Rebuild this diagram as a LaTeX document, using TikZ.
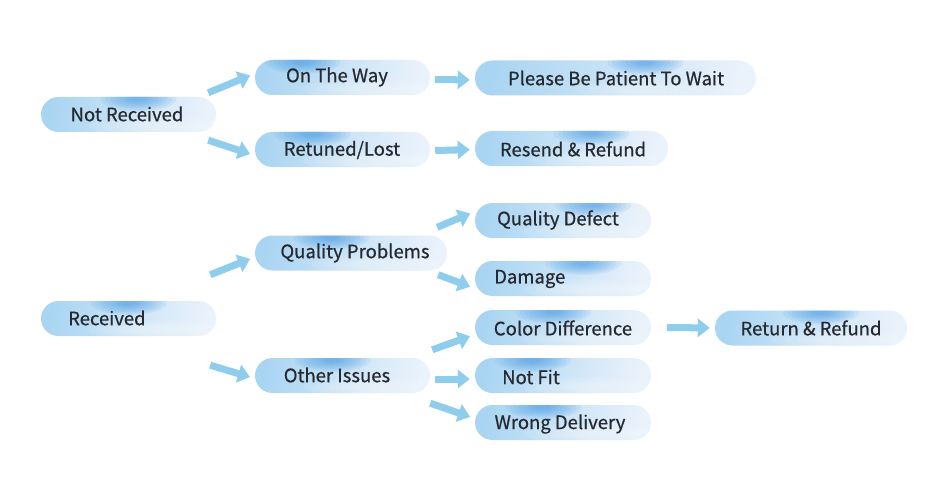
\documentclass[tikz,border=0pt]{standalone}
\usepackage{fontspec}
\setmainfont{Noto Sans CJK SC}[FakeBold=0.6]
\usetikzlibrary{arrows.meta}
\definecolor{pillA}{RGB}{170,213,242}
\definecolor{pillB}{RGB}{234,242,251}
\definecolor{spot}{RGB}{60,150,228}
\definecolor{arr}{RGB}{142,206,236}
\definecolor{txtc}{RGB}{38,42,48}
\tikzset{
  pill/.style={minimum height=35pt, minimum width=175pt, rounded corners=17.5pt,
    inner sep=0pt, left color=pillA, right color=pillB, shading angle=80,
    path picture={
      \foreach \s in {1.0,0.88,0.76,0.64,0.52,0.4,0.3,0.2}{
        \fill[spot, opacity=0.1] ([xshift=#1, yshift=-2pt]path picture bounding box.north) ellipse ({38pt*\s} and {12pt*\s});
      }
      \foreach \s in {1.0,0.8,0.6,0.4}{
        \fill[white, opacity=0.1] ([xshift=25pt, yshift=6pt]path picture bounding box.south) ellipse ({65pt*\s} and {10pt*\s});
      }
    }},
  pill/.default=10pt,
  lbl/.style={text=txtc, font=\fontsize{18.5}{22}\selectfont, inner sep=0pt},
  barr/.style={draw=arr, line width=7pt, -{Triangle[width=18pt,length=12pt]}, shorten >=5pt},
}
\begin{document}
\begin{tikzpicture}[x=1pt,y=-1pt]
\useasboundingbox (0,0) rectangle (950,500);
\fill[white] (0,0) rectangle (950,500);
% pills
\node[pill=10pt] (nr) at (128.5,114.5) {};
\node[pill=-40pt] (otw) at (342.5,77.5) {};
\node[pill=30pt, minimum width=281pt] (pbp) at (615.5,78) {};
\node[pill=-30pt] (rl) at (342.5,149.5) {};
\node[pill=20pt, minimum width=193pt] (rr1) at (571.5,148.5) {};
\node[pill=30pt, minimum width=176pt] (qd) at (563,220.5) {};
\node[pill=-20pt, minimum width=192pt] (qp) at (351,253) {};
\node[pill=20pt, minimum width=176pt] (dm) at (563,278.5) {};
\node[pill=0pt] (rc) at (128.5,318.5) {};
\node[pill=-10pt, minimum width=176pt] (cd) at (563,327.5) {};
\node[pill=10pt, minimum width=192pt] (rr2) at (811,328) {};
\node[pill=-10pt] (oi) at (342.5,375.5) {};
\node[pill=-30pt, minimum width=176pt] (nf) at (563,375.5) {};
\node[pill=-20pt, minimum width=176pt] (wd) at (563,422.5) {};
% labels
\node[lbl] (tnr) at (127,114) {Not Received};
\node[lbl] (totw) at (337,77) {On The Way};
\node[lbl] (tpbp) at (616,78) {Please Be Patient To Wait};
\node[lbl] (trl) at (342,150) {Retuned/Lost};
\node[lbl] (trr1) at (573,149) {Resend \& Refund};
\node[lbl] (tqd) at (558,220) {Quality Defect};
\node[lbl] (tqp) at (355,253) {Quality Problems};
\node[lbl, anchor=west] (tdm) at (494,279) {Damage};
\node[lbl, anchor=west] (trc) at (68,318) {Received};
\node[lbl] (tcd) at (563,328) {Color Difference};
\node[lbl] (trr2) at (811,328) {Return \& Refund};
\node[lbl] (toi) at (337,375) {Other Issues};
\node[lbl, anchor=west] (tnf) at (502,377) {Not Fit};
\node[lbl] (twd) at (560,424) {Wrong Delivery};
% arrows
\draw[barr] ([xshift=-8pt,yshift=4pt]nr.north east) -- ([yshift=4pt]otw.west);
\draw[barr] ([xshift=-8pt,yshift=-8pt]nr.south east) -- ([yshift=-6pt]rl.west);
\draw[barr] ([xshift=5pt,yshift=-2pt]otw.east) -- ([yshift=-2pt]pbp.west);
\draw[barr] ([xshift=5pt,yshift=-1pt]rl.east) -- ([yshift=-1pt]rr1.west);
\draw[barr] ([xshift=-6pt,yshift=26pt]rc.north east) -- ([yshift=-4pt]qp.west);
\draw[barr] ([xshift=-6pt,yshift=-29pt]rc.south east) -- ([yshift=-3pt]oi.west);
\draw[barr] ([xshift=-10pt,yshift=8pt]qp.north east) -- ([yshift=9pt]qd.west);
\draw[barr] ([xshift=-9pt,yshift=-4pt]qp.south east) -- ([yshift=-10pt]dm.west);
\draw[barr] ([xshift=2pt,yshift=8pt]oi.north east) -- ([yshift=-7pt]cd.west);
\draw[barr] ([xshift=5pt,yshift=-3.5pt]oi.east) -- ([yshift=-3.5pt]nf.west);
\draw[barr] ([xshift=0pt,yshift=-10pt]oi.south east) -- ([yshift=4pt]wd.west);
\draw[barr] ([xshift=16pt]cd.east) -- (rr2.west);
\end{tikzpicture}
\end{document}
